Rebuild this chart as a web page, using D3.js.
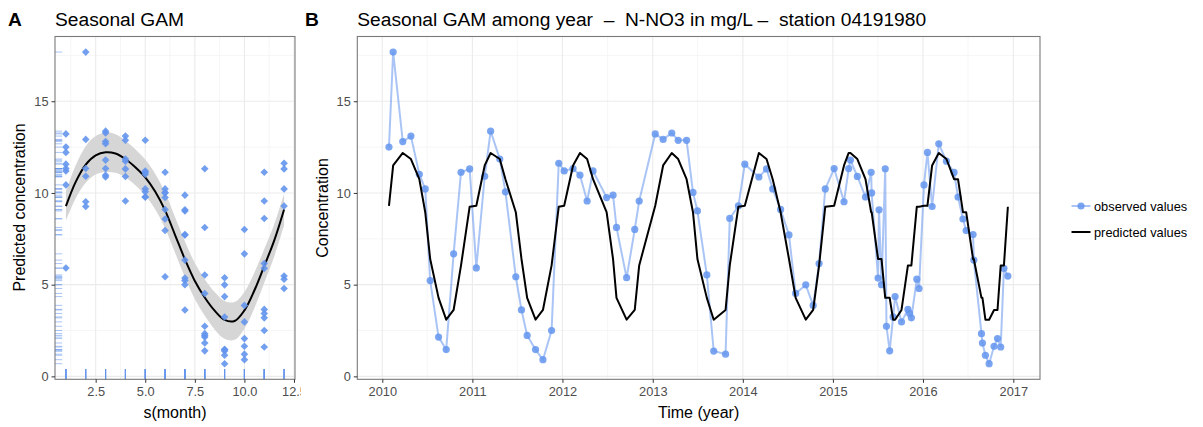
<!DOCTYPE html>
<html>
<head>
<meta charset="utf-8">
<script src="https://cdn.jsdelivr.net/npm/d3@7"></script>
<style>
html,body{margin:0;padding:0;background:#fff;}
svg{display:block;font-family:"Liberation Sans",Arial,sans-serif;}
</style>
</head>
<body>
<svg id="chart" width="1203" height="427"></svg>
<script>
// ---------------- DATA ----------------
const obsDates = [
"2010-01-28","2010-02-14","2010-03-25","2010-04-27","2010-05-31","2010-06-24","2010-07-14","2010-08-17","2010-09-17","2010-10-17","2010-11-16","2010-12-21",
"2011-01-17","2011-02-20","2011-03-16","2011-04-22","2011-05-15","2011-06-26","2011-07-19","2011-08-11","2011-09-14","2011-10-14","2011-11-18","2011-12-17",
"2012-01-08","2012-02-13","2012-03-12","2012-04-10","2012-05-04","2012-06-28","2012-07-24","2012-08-07","2012-09-17","2012-10-20","2012-11-07",
"2013-01-11","2013-02-12","2013-03-19","2013-04-14","2013-05-18","2013-06-13","2013-07-01","2013-08-08","2013-09-05","2013-10-23","2013-11-09","2013-12-14",
"2014-01-09","2014-03-07","2014-04-07","2014-05-02","2014-06-03","2014-07-07","2014-08-03","2014-09-13","2014-10-13","2014-11-06","2014-12-01",
"2015-01-06","2015-02-15","2015-03-06","2015-03-13","2015-04-10","2015-05-13","2015-06-05","2015-06-07","2015-07-03","2015-07-07","2015-07-17","2015-08-01","2015-08-06","2015-08-19","2015-09-02","2015-09-10","2015-10-06","2015-11-01","2015-11-08","2015-11-15","2015-12-07","2015-12-16",
"2016-01-05","2016-01-19","2016-02-07","2016-03-05","2016-04-05","2016-05-06","2016-05-22","2016-06-11","2016-06-24","2016-07-22","2016-07-25","2016-08-25","2016-08-29","2016-09-10","2016-09-25","2016-10-15","2016-10-29","2016-11-11","2016-11-24","2016-12-10"
];
const obsValues = [
12.5,17.68,12.8,13.1,11.02,10.22,5.22,2.14,1.46,6.68,11.13,11.31,
5.91,10.91,13.37,11.85,10.06,5.43,3.62,2.23,1.46,0.91,2.5,11.62,
11.2,11.33,10.97,9.56,11.2,9.75,9.88,8.12,5.38,8.01,9.56,
13.22,12.92,13.27,12.87,12.87,10.03,9.02,5.53,1.38,1.21,8.61,9.29,
11.57,10.87,11.31,10.22,9.1,7.71,4.52,4.99,3.87,6.15,10.22,
11.33,9.52,11.33,11.79,10.9,9.78,11.13,10.0,5.36,9.08,5.0,11.32,2.73,1.39,3.24,4.35,2.97,3.65,3.43,3.19,5.3,4.79,
10.44,12.21,9.26,12.68,11.73,11.12,9.78,8.58,7.95,7.73,6.34,2.33,1.82,1.15,0.69,1.64,2.06,1.6,5.89,5.47
];
// seasonal GAM prediction by month (Jan..Dec)
const predMonthly = [9.3, 11.5, 12.18, 11.85, 10.75, 8.95, 6.4, 4.28, 3.09, 3.62, 6.05, 9.25];
// smooth curve of panel A
const fitMonths = [1,1.5,2,2.5,3,3.5,4,4.5,5,5.5,6,6.5,7,7.5,8,8.5,9,9.5,10,10.5,11,11.5,12];
const fitValues = [9.28,10.62,11.55,12.05,12.22,12.15,11.85,11.4,10.85,10.08,9.05,7.72,6.38,5.2,4.3,3.58,3.08,3.02,3.6,4.68,6.02,7.4,9.1];
const fitHalfCI = [0.8,0.9,1.0,1.05,1.08,1.05,1.0,0.98,0.97,0.97,0.97,0.97,0.98,0.98,1.0,1.02,1.03,1.03,1.0,0.97,0.92,0.88,0.86];
const yTicks = [0,5,10,15];
const xTicksA = [2.5,5.0,7.5,10.0,12.5];
const yearTicks = [2010,2011,2012,2013,2014,2015,2016,2017];
const titleA = "Seasonal GAM";
const titleB = "Seasonal GAM among year  \u2013  N-NO3 in mg/L \u2013  station 04191980";
const legendLabels = ["observed values","predicted values"];

// ---------------- LAYOUT ----------------
const svg = d3.select("#chart");
const pTop = 36.5, pBot = 379.3;
const A = {l:55, r:295};
const B = {l:357.3, r:1040};
const blue = "#6495ED";
const gridMajor = "#EBEBEB", gridMinor = "#F4F4F4";
const tickCol = "#4D4D4D";
const borderCol = "#7A7A7A";
const FS_TICK = "12.8px", FS_AXT = "16px", FS_TITLE = "19.2px";

const parse = d3.timeParse("%Y-%m-%d");
const obs = obsDates.map((d,i)=>({date:parse(d), value:obsValues[i]}));
obs.forEach(o=>{o.month = o.date.getMonth()+1; o.pred = predMonthly[o.month-1];});

const y = d3.scaleLinear().domain([-0.16, 18.53]).range([pBot, pTop]);

// ---------------- PANEL A ----------------
svg.append("defs").append("clipPath").attr("id","clipA")
  .append("rect").attr("x",0).attr("y",0).attr("width",301).attr("height",427);
const gA = svg.append("g").attr("clip-path","url(#clipA)");
const xA = d3.scaleLinear().domain([0.45,12.55]).range([A.l, A.r]);

const minorY = [2.5,7.5,12.5,17.5];
gA.selectAll(".gyminA").data(minorY).join("line")
  .attr("x1",A.l).attr("x2",A.r).attr("y1",d=>y(d)).attr("y2",d=>y(d))
  .attr("stroke",gridMinor).attr("stroke-width",0.8);
const minorXA = [1.25,3.75,6.25,8.75,11.25];
gA.selectAll(".gxminA").data(minorXA).join("line")
  .attr("y1",pTop).attr("y2",pBot).attr("x1",d=>xA(d)).attr("x2",d=>xA(d))
  .attr("stroke",gridMinor).attr("stroke-width",0.8);
gA.selectAll(".gyA").data(yTicks).join("line")
  .attr("x1",A.l).attr("x2",A.r).attr("y1",d=>y(d)).attr("y2",d=>y(d))
  .attr("stroke",gridMajor).attr("stroke-width",1.1);
gA.selectAll(".gxA").data(xTicksA).join("line")
  .attr("y1",pTop).attr("y2",pBot).attr("x1",d=>xA(d)).attr("x2",d=>xA(d))
  .attr("stroke",gridMajor).attr("stroke-width",1.1);

const fit = fitMonths.map((m,i)=>({m, v:fitValues[i], lo:fitValues[i]-fitHalfCI[i], hi:fitValues[i]+fitHalfCI[i]}));
gA.append("path").datum(fit)
  .attr("d", d3.area().x(d=>xA(d.m)).y0(d=>y(d.lo)).y1(d=>y(d.hi)).curve(d3.curveCatmullRom))
  .attr("fill","#D6D6D6");
gA.append("path").datum(fit)
  .attr("d", d3.line().x(d=>xA(d.m)).y(d=>y(d.v)).curve(d3.curveCatmullRom))
  .attr("fill","none").attr("stroke","#000").attr("stroke-width",2);

gA.selectAll(".rugY").data(obs).join("line")
  .attr("x1",A.l).attr("x2",A.l+7.2).attr("y1",d=>y(d.value)).attr("y2",d=>y(d.value))
  .attr("stroke",blue).attr("stroke-opacity",0.55).attr("stroke-width",1);
gA.selectAll(".rugX").data(obs).join("line")
  .attr("x1",d=>xA(d.month)).attr("x2",d=>xA(d.month)).attr("y1",pBot).attr("y2",pBot-10.3)
  .attr("stroke",blue).attr("stroke-opacity",0.55).attr("stroke-width",1);

const r = 3.8;
gA.selectAll(".pt").data(obs).join("path")
  .attr("d",`M0,${-r}L${r},0L0,${r}L${-r},0Z`)
  .attr("transform",d=>`translate(${xA(d.month)},${y(d.value)})`)
  .attr("fill",blue).attr("fill-opacity",0.9);

gA.append("rect").attr("x",A.l).attr("y",pTop).attr("width",A.r-A.l).attr("height",pBot-pTop)
  .attr("fill","none").attr("stroke",borderCol).attr("stroke-width",1.1);

const axAy = gA.append("g").attr("transform",`translate(${A.l},0)`)
  .call(d3.axisLeft(y).tickValues(yTicks).tickFormat(d3.format("d")).tickSize(3.5).tickPadding(3));
const axAx = gA.append("g").attr("transform",`translate(0,${pBot})`)
  .call(d3.axisBottom(xA).tickValues(xTicksA).tickFormat(d3.format(".1f")).tickSize(3.5).tickPadding(4));
[axAy,axAx].forEach(a=>{
  a.select(".domain").remove();
  a.selectAll("line").attr("stroke","#333").attr("stroke-width",1);
  a.selectAll("text").attr("fill",tickCol).style("font-size",FS_TICK).style("font-family","Liberation Sans, Arial, sans-serif");
});

gA.append("text").attr("x",175).attr("y",418).attr("text-anchor","middle")
  .style("font-size",FS_AXT).text("s(month)");
gA.append("text").attr("transform","translate(24.5,207.5) rotate(-90)").attr("text-anchor","middle")
  .style("font-size",FS_AXT).text("Predicted concentration");
svg.append("text").attr("x",8).attr("y",25.5).style("font-size",FS_TITLE).style("font-weight","bold").text("A");
svg.append("text").attr("x",55).attr("y",26).style("font-size",FS_TITLE).text(titleA);

// ---------------- PANEL B ----------------
const gB = svg.append("g");
const xB = d3.scaleTime().domain([new Date(2010,0,1), new Date(2017,0,1)]).range([382.3, 1013.3]);
const yearDate = yr => new Date(yr,0,1);
const minorYears = [2009,2010,2011,2012,2013,2014,2015,2016];
gB.selectAll(".gyminB").data(minorY).join("line")
  .attr("x1",B.l).attr("x2",B.r).attr("y1",d=>y(d)).attr("y2",d=>y(d))
  .attr("stroke",gridMinor).attr("stroke-width",0.8);
gB.selectAll(".gxminB").data(minorYears.filter(yr=>{const xx=xB(new Date(yr,6,2));return xx>B.l&&xx<B.r;})).join("line")
  .attr("y1",pTop).attr("y2",pBot)
  .attr("x1",d=>xB(new Date(d,6,2))).attr("x2",d=>xB(new Date(d,6,2)))
  .attr("stroke",gridMinor).attr("stroke-width",0.8);
gB.selectAll(".gyB").data(yTicks).join("line")
  .attr("x1",B.l).attr("x2",B.r).attr("y1",d=>y(d)).attr("y2",d=>y(d))
  .attr("stroke",gridMajor).attr("stroke-width",1.1);
gB.selectAll(".gxB").data(yearTicks).join("line")
  .attr("y1",pTop).attr("y2",pBot).attr("x1",d=>xB(yearDate(d))).attr("x2",d=>xB(yearDate(d)))
  .attr("stroke",gridMajor).attr("stroke-width",1.1);

gB.append("path").datum(obs)
  .attr("d",d3.line().x(d=>xB(d.date)).y(d=>y(d.value)))
  .attr("fill","none").attr("stroke",blue).attr("stroke-opacity",0.55).attr("stroke-width",2);
gB.selectAll(".obs").data(obs).join("circle")
  .attr("cx",d=>xB(d.date)).attr("cy",d=>y(d.value)).attr("r",3.6)
  .attr("fill",blue).attr("fill-opacity",0.85);
gB.append("path").datum(obs)
  .attr("d",d3.line().x(d=>xB(d.date)).y(d=>y(d.pred)))
  .attr("fill","none").attr("stroke","#000").attr("stroke-width",2).attr("stroke-linejoin","round");

gB.append("rect").attr("x",B.l).attr("y",pTop).attr("width",B.r-B.l).attr("height",pBot-pTop)
  .attr("fill","none").attr("stroke",borderCol).attr("stroke-width",1.1);

const axBy = gB.append("g").attr("transform",`translate(${B.l},0)`)
  .call(d3.axisLeft(y).tickValues(yTicks).tickFormat(d3.format("d")).tickSize(3.5).tickPadding(3));
const axBx = gB.append("g").attr("transform",`translate(0,${pBot})`)
  .call(d3.axisBottom(xB).tickValues(yearTicks.map(yearDate)).tickFormat(d3.timeFormat("%Y")).tickSize(3.5).tickPadding(4));
[axBy,axBx].forEach(a=>{
  a.select(".domain").remove();
  a.selectAll("line").attr("stroke","#333").attr("stroke-width",1);
  a.selectAll("text").attr("fill",tickCol).style("font-size",FS_TICK).style("font-family","Liberation Sans, Arial, sans-serif");
});
gB.append("text").attr("x",(B.l+B.r)/2).attr("y",418).attr("text-anchor","middle")
  .style("font-size",FS_AXT).text("Time (year)");
gB.append("text").attr("transform","translate(328,208) rotate(-90)").attr("text-anchor","middle")
  .style("font-size",FS_AXT).text("Concentration");
svg.append("text").attr("x",305).attr("y",25.5).style("font-size",FS_TITLE).style("font-weight","bold").text("B");
svg.append("text").attr("x",B.l).attr("y",26).attr("xml:space","preserve")
  .style("white-space","pre").style("font-size",FS_TITLE).text(titleB);

const lg = svg.append("g");
lg.append("line").attr("x1",1071.5).attr("x2",1090.5).attr("y1",206).attr("y2",206)
  .attr("stroke",blue).attr("stroke-opacity",0.55).attr("stroke-width",2);
lg.append("circle").attr("cx",1081).attr("cy",206).attr("r",3.6).attr("fill",blue).attr("fill-opacity",0.85);
lg.append("line").attr("x1",1071.5).attr("x2",1090.5).attr("y1",232).attr("y2",232)
  .attr("stroke","#000").attr("stroke-width",2);
lg.selectAll(".lt").data(legendLabels).join("text")
  .attr("x",1094).attr("y",(d,i)=>210.5+i*26).style("font-size","12.8px").text(d=>d);
</script>
</body>
</html>
